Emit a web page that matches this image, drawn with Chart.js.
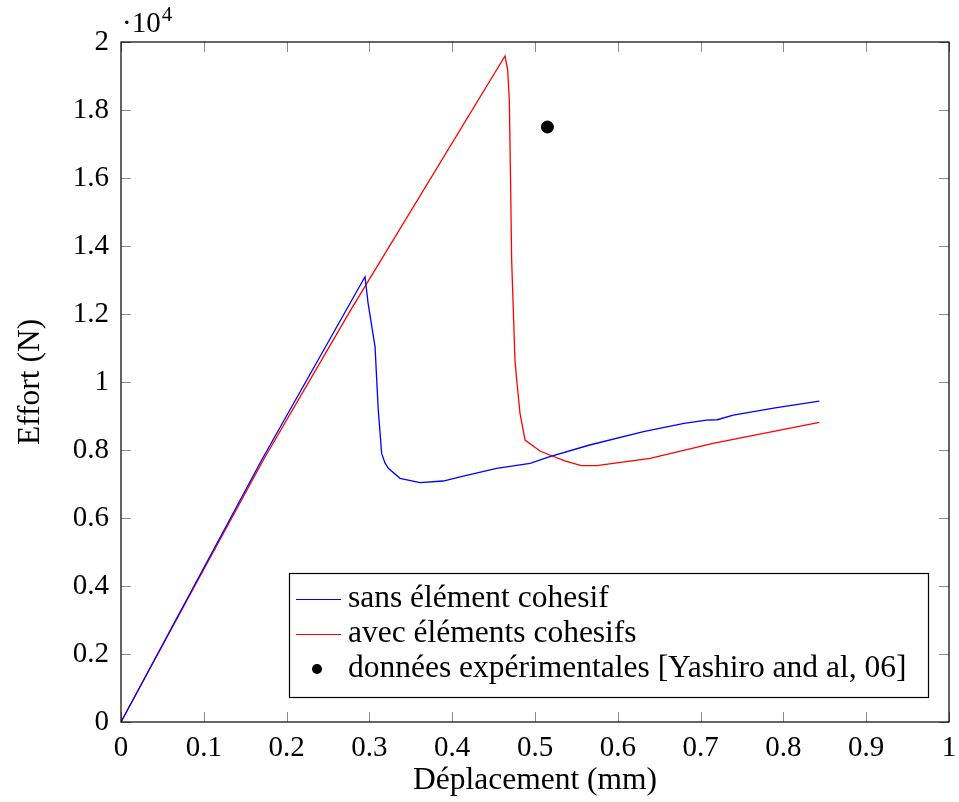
<!DOCTYPE html>
<html>
<head>
<meta charset="utf-8">
<script src="https://cdn.jsdelivr.net/npm/chart.js@4.4.0/dist/chart.umd.min.js"></script>
<style>
  html, body { margin: 0; padding: 0; background: #fff; }
  #wrap { width: 959px; height: 802px; }
</style>
</head>
<body>
<div id="wrap"><canvas id="c" width="959" height="802"></canvas></div>
<script>
// ---- Data (displacement in mm, force in N) ----
const blueX = [0, 0.1699, 0.2947, 0.2984, 0.3068, 0.3107, 0.3148, 0.3188, 0.3229, 0.337, 0.361, 0.389, 0.4134, 0.4537, 0.494, 0.518, 0.566, 0.631, 0.68, 0.707, 0.72, 0.7395, 0.79, 0.8434];
const blueY = [0, 7705, 13097, 12320, 11040, 9180, 7900, 7620, 7462, 7167, 7038, 7088, 7235, 7462, 7608, 7803, 8147, 8538, 8780, 8880, 8890, 9029, 9240, 9440];

const redX = [0, 0.08, 0.1719, 0.2786, 0.4638, 0.467, 0.469, 0.4706, 0.4718, 0.4758, 0.4779, 0.4819, 0.488, 0.506, 0.518, 0.536, 0.556, 0.5745, 0.639, 0.715, 0.8434];
const redY = [0, 3600, 7705, 12167, 19590, 19176, 18294, 15744, 13588, 10647, 10059, 9079, 8294, 7970, 7853, 7680, 7538, 7538, 7755, 8196, 8814];

const expX = [0.515];
const expY = [17500];

const seriesNames = ["sans élément cohesif", "avec éléments cohesifs", "données expérimentales [Yashiro and al, 06]"];
const xTickValues = [0, 0.1, 0.2, 0.3, 0.4, 0.5, 0.6, 0.7, 0.8, 0.9, 1];
const yTickValues = [0, 2000, 4000, 6000, 8000, 10000, 12000, 14000, 16000, 18000, 20000];
const xTitle = "Déplacement (mm)";
const yTitle = "Effort (N)";
const yExponent = "4";

const FONT = "'Liberation Serif', 'DejaVu Serif', serif";

function pts(xs, ys) { return xs.map((x, i) => ({ x: x, y: ys[i] })); }
function fmt(v) { let s = (Math.round(v * 10) / 10).toFixed(1); if (s.endsWith('.0')) s = s.slice(0, -2); return s; }

const decor = {
  id: 'decor',
  beforeDatasetsDraw(chart) {
    const ctx = chart.ctx, a = chart.chartArea;
    const xs = chart.scales.x, ys = chart.scales.y;
    ctx.save();
    ctx.strokeStyle = '#8c8c8c';
    ctx.lineWidth = 1;
    const L = 10;
    xTickValues.forEach(v => {
      const p = Math.round(xs.getPixelForValue(v)) + 0.5;
      ctx.beginPath();
      ctx.moveTo(p, a.bottom); ctx.lineTo(p, a.bottom - L);
      ctx.moveTo(p, a.top); ctx.lineTo(p, a.top + L);
      ctx.stroke();
    });
    yTickValues.forEach(v => {
      const p = Math.round(ys.getPixelForValue(v)) + 0.5;
      ctx.beginPath();
      ctx.moveTo(a.left, p); ctx.lineTo(a.left + L, p);
      ctx.moveTo(a.right, p); ctx.lineTo(a.right - L, p);
      ctx.stroke();
    });
    ctx.restore();
  },
  afterDraw(chart) {
    const ctx = chart.ctx, a = chart.chartArea;
    ctx.save();
    ctx.strokeStyle = '#000';
    ctx.lineWidth = 1.2;
    ctx.strokeRect(a.left, a.top, a.right - a.left, a.bottom - a.top);
    ctx.fillStyle = '#000';
    ctx.textBaseline = 'alphabetic';
    ctx.textAlign = 'left';
    ctx.font = '29px ' + FONT;
    ctx.fillText('·10', a.left + 1, a.top - 10);
    const w = ctx.measureText('·10').width;
    ctx.font = '21px ' + FONT;
    ctx.fillText(yExponent, a.left + 1 + w + 1, a.top - 21);
    // legend
    const bx = 289, by = 573, bw = 639, bh = 124;
    ctx.fillStyle = '#fff';
    ctx.fillRect(bx, by, bw, bh);
    ctx.strokeStyle = '#000';
    ctx.lineWidth = 1.2;
    ctx.strokeRect(bx + 0.5, by + 0.5, bw, bh);
    const rows = [599, 634, 669];
    const ds = chart.data.datasets;
    ctx.font = '31.5px ' + FONT;
    ctx.textBaseline = 'middle';
    rows.forEach((ry, i) => {
      const d = ds[i];
      if (i < 2) {
        ctx.strokeStyle = d.borderColor;
        ctx.lineWidth = 1.2;
        ctx.beginPath(); ctx.moveTo(296, ry + 0.5); ctx.lineTo(341, ry + 0.5); ctx.stroke();
      } else {
        ctx.fillStyle = '#000';
        ctx.beginPath(); ctx.arc(317, ry, 5, 0, Math.PI * 2); ctx.fill();
      }
      ctx.fillStyle = '#000';
      ctx.fillText(d.label, 348, ry);
    });
    ctx.restore();
  }
};

new Chart(document.getElementById('c'), {
  type: 'scatter',
  data: {
    datasets: [
      { label: seriesNames[0], data: pts(blueX, blueY), showLine: true, borderColor: '#0000ff', borderWidth: 1.3, pointRadius: 0, fill: false, tension: 0 },
      { label: seriesNames[1], data: pts(redX, redY), showLine: true, borderColor: '#ff0000', borderWidth: 1.3, pointRadius: 0, fill: false, tension: 0 },
      { label: seriesNames[2], data: pts(expX, expY), showLine: false, backgroundColor: '#000', borderColor: '#000', pointRadius: 6, pointHoverRadius: 6 }
    ]
  },
  options: {
    responsive: false,
    animation: false,
    layout: { padding: { left: 0, top: 42, right: 10, bottom: 0 } },
    plugins: { legend: { display: false }, tooltip: { enabled: false } },
    scales: {
      x: {
        type: 'linear', min: 0, max: 1,
        afterFit(s) { s.height = 80; s.paddingLeft = 0; s.paddingRight = 0; },
        afterBuildTicks(s) { s.ticks = xTickValues.map(v => ({ value: v })); },
        grid: { display: false, drawTicks: false },
        border: { display: false },
        ticks: { color: '#000', font: { family: FONT, size: 29 }, padding: 9, maxRotation: 0, callback: v => fmt(v) },
        title: { display: true, text: xTitle, color: '#000', font: { family: FONT, size: 31.5 }, padding: { top: 0, bottom: 2 } }
      },
      y: {
        type: 'linear', min: 0, max: 20000,
        afterFit(s) { s.width = 121; s.paddingTop = 0; s.paddingBottom = 0; },
        afterBuildTicks(s) { s.ticks = yTickValues.map(v => ({ value: v })); },
        grid: { display: false, drawTicks: false },
        border: { display: false },
        ticks: { color: '#000', font: { family: FONT, size: 29 }, padding: 12, callback: v => fmt(v / 10000) },
        title: { display: true, text: yTitle, color: '#000', font: { family: FONT, size: 31.5 }, padding: { top: 12, bottom: 0 } }
      }
    }
  },
  plugins: [decor]
});
</script>
</body>
</html>
